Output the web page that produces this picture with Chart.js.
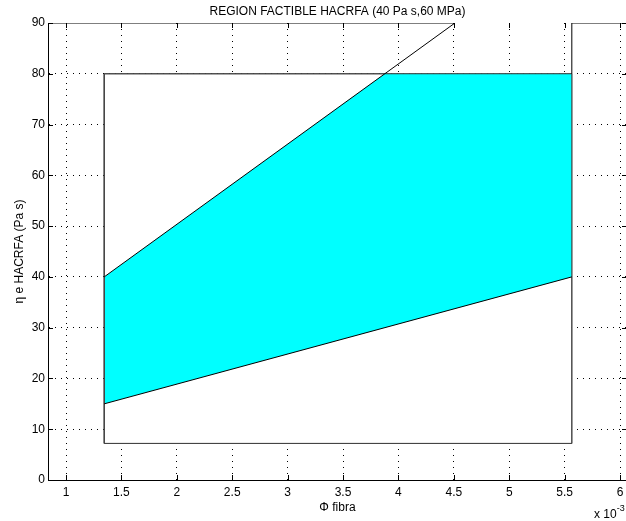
<!DOCTYPE html>
<html>
<head>
<meta charset="utf-8">
<script src="https://cdn.jsdelivr.net/npm/chart.js@4.4.0/dist/chart.umd.min.js"></script>
<style>
  html, body { margin: 0; padding: 0; background: #fff; overflow: hidden; }
  #wrap { width: 626px; height: 521px; overflow: hidden; }
</style>
</head>
<body>
<div id="wrap"><canvas id="chart" width="630" height="521"></canvas></div>
<script>
// axis ticks and ranges (x in units of 10^-3)
const xTicks = [1, 1.5, 2, 2.5, 3, 3.5, 4, 4.5, 5, 5.5, 6];
const yTicks = [0, 10, 20, 30, 40, 50, 60, 70, 80, 90];
const xRange = [0.8375, 6.063];
const yRange = [0, 90];

// white box of admissible values
const boxX = [1.345, 5.565, 5.565, 1.345];
const boxY = [7.2, 7.2, 80, 80];

// feasible region (cyan)
const regionX = [1.345, 1.345, 3.877, 5.565, 5.565];
const regionY = [15, 40, 80, 80, 40];

// bounding lines
const upperX = [1.345, 4.51];
const upperY = [40, 90];
const lowerX = [1.345, 5.565];
const lowerY = [15, 40];
const topX = [0.8375, 4.51];
const topY = [90, 90];
const stepX = [5.565, 5.565, 6.063];
const stepY = [80, 90, 90];

function pts(xs, ys) {
    return xs.map((x, i) => ({ x: x, y: ys[i] }));
}

Chart.defaults.font.family = '"Liberation Sans", Arial, Helvetica, sans-serif';
Chart.defaults.font.size = 12;
Chart.defaults.color = '#000';

// small inward tick marks like the original plot
const innerTicks = {
    id: 'innerTicks',
    afterDraw(chart) {
        const { ctx, chartArea: a, scales: { x, y } } = chart;
        ctx.save();
        ctx.strokeStyle = '#000';
        ctx.lineWidth = 1;
        ctx.beginPath();
        xTicks.forEach(v => {
            const px = Math.round(x.getPixelForValue(v)) + 0.5;
            ctx.moveTo(px, a.bottom); ctx.lineTo(px, a.bottom - 5);
            ctx.moveTo(px, a.top); ctx.lineTo(px, a.top + 5);
        });
        yTicks.forEach(v => {
            const py = Math.round(y.getPixelForValue(v)) + 0.5;
            ctx.moveTo(a.left, py); ctx.lineTo(a.left + 5, py);
            ctx.moveTo(a.right, py); ctx.lineTo(a.right - 5, py);
        });
        ctx.stroke();

        // x 10^-3 multiplier
        ctx.fillStyle = '#000';
        ctx.textBaseline = 'alphabetic';
        ctx.textAlign = 'left';
        ctx.font = '12px "Liberation Sans", Arial, sans-serif';
        ctx.fillText('x 10', 594, 518);
        const w = ctx.measureText('x 10').width;
        ctx.font = '9px "Liberation Sans", Arial, sans-serif';
        ctx.fillText('-3', 594 + w, 511);
        ctx.restore();
    }
};

const line = (xs, ys, color, order) => ({
    data: pts(xs, ys),
    showLine: true,
    borderColor: color,
    borderWidth: 1,
    pointRadius: 0,
    fill: false,
    order: order
});

new Chart(document.getElementById('chart'), {
    type: 'scatter',
    data: {
        datasets: [
            {
                data: pts(boxX, boxY),
                showLine: true,
                backgroundColor: '#ffffff',
                borderColor: '#444',
                borderWidth: 1,
                pointRadius: 0,
                fill: 'shape',
                order: 10
            },
            {
                data: pts(regionX, regionY),
                showLine: true,
                backgroundColor: '#00ffff',
                borderColor: 'rgba(0,0,0,0)',
                borderWidth: 0,
                pointRadius: 0,
                fill: 'shape',
                order: 9
            },
            line(boxX.concat([boxX[0]]), boxY.concat([boxY[0]]), '#444', 5),
            line(upperX, upperY, '#000', 1),
            line(lowerX, lowerY, '#000', 1),
            line(topX, topY, '#000', 1),
            line(stepX, stepY, '#000', 1)
        ]
    },
    options: {
        responsive: false,
        animation: false,
        layout: { padding: { left: 0, right: 3, top: 0, bottom: 0 } },
        plugins: {
            legend: { display: false },
            tooltip: { enabled: false },
            title: {
                display: true,
                text: 'REGION FACTIBLE HACRFA (40 Pa s,60 MPa)',
                fullSize: false,
                font: { size: 12, weight: 'normal' },
                padding: { top: 4, bottom: 4.6 }
            }
        },
        scales: {
            x: {
                type: 'linear',
                min: xRange[0],
                max: xRange[1],
                afterBuildTicks: s => { s.ticks = xTicks.map(v => ({ value: v })); },
                afterFit: s => { s.height = 41; },
                ticks: { padding: 5, maxRotation: 0, autoSkip: false, callback: v => String(v) },
                grid: { color: '#000', lineWidth: 1, drawTicks: false },
                border: { display: true, color: '#000', width: 1, dash: [1, 5] },
                title: { display: true, text: 'Φ fibra', padding: 6 }
            },
            y: {
                type: 'linear',
                min: yRange[0],
                max: yRange[1],
                afterBuildTicks: s => { s.ticks = yTicks.map(v => ({ value: v })); },
                afterFit: s => { s.width = 48; },
                ticks: { padding: 3, autoSkip: false, callback: v => String(v) },
                grid: {
                    color: c => (c.tick && c.tick.value === 90) ? 'rgba(0,0,0,0)' : '#000',
                    lineWidth: 1, drawTicks: false
                },
                border: { display: true, color: '#000', width: 1, dash: [1, 5] },
                title: { display: true, text: 'η e HACRFA (Pa s)', padding: 12 }
            }
        }
    },
    plugins: [innerTicks]
});
</script>
</body>
</html>
